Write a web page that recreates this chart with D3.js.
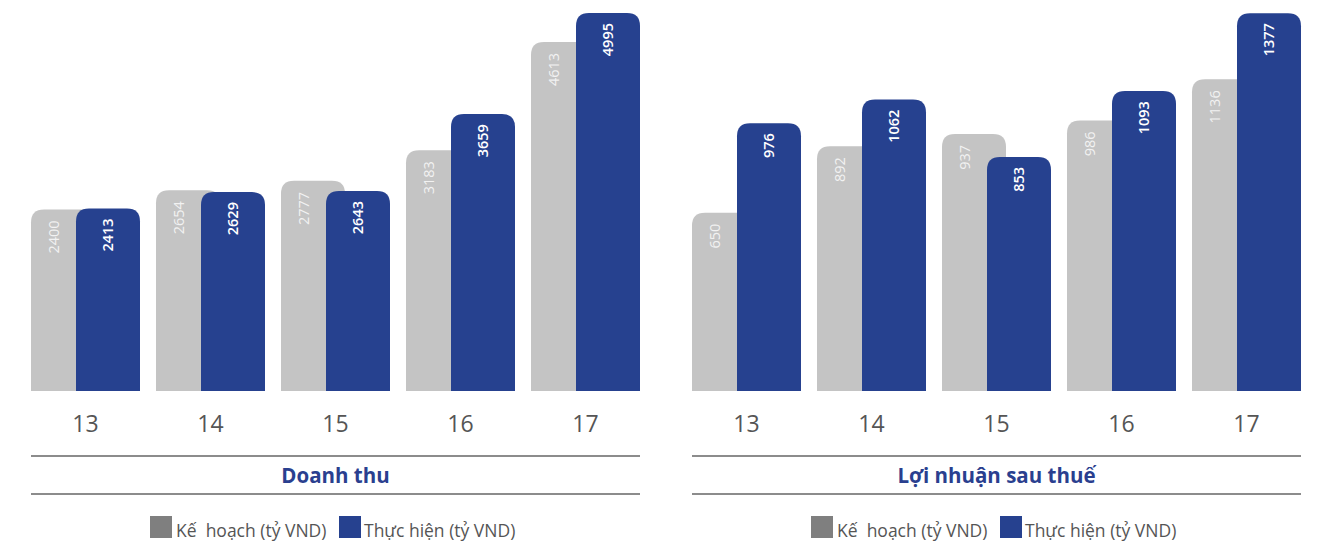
<!DOCTYPE html>
<html>
<head>
<meta charset="utf-8">
<script src="https://cdn.jsdelivr.net/npm/d3@7"></script>
<style>
  body { margin: 0; background: #fff; }
  svg { display: block; font-family: "Open Sans", "Noto Sans", sans-serif; }
</style>
</head>
<body>
<svg id="chart" width="1321" height="542"></svg>
<script>
var years = ["13", "14", "15", "16", "17"];
var revenuePlan = [2400, 2654, 2777, 3183, 4613];
var revenueActual = [2413, 2629, 2643, 3659, 4995];
var profitPlan = [650, 892, 937, 986, 1136];
var profitActual = [976, 1062, 853, 1093, 1377];
var titles = ["Doanh thu", "Lợi nhuận sau thuế"];
var legendLabels = ["Kế  hoạch (tỷ VND)", "Thực hiện (tỷ VND)"];

var grayBar = "#c4c4c4", blueBar = "#26418f", legendGray = "#7f7f7f";
var baseY = 391, topY = 0, barW = 64, radius = 13;

var svg = d3.select("#chart");

// rounded only on the top corners
function topRounded(x, y, w, h, r) {
    r = Math.min(r, h, w / 2);
    return "M" + x + "," + (y + h) +
        "V" + (y + r) +
        "Q" + x + "," + y + " " + (x + r) + "," + y +
        "H" + (x + w - r) +
        "Q" + (x + w) + "," + y + " " + (x + w) + "," + (y + r) +
        "V" + (y + h) + "Z";
}

function drawPanel(left, right, plan, actual, yMax, title, legendX) {
    var g = svg.append("g");
    var x = d3.scaleBand().domain(years).range([left, right]).paddingInner(0.128).paddingOuter(0);
    var y = d3.scaleLinear().domain([0, yMax]).range([baseY, topY]);

    var rows = years.map(function(d, i) { return { year: d, plan: plan[i], actual: actual[i] }; });

    // plan bars (behind)
    g.selectAll(".plan").data(rows).enter().append("path")
        .attr("class", "plan")
        .attr("fill", grayBar)
        .attr("d", function(d) {
            return topRounded(x(d.year), y(d.plan), barW, baseY - y(d.plan), radius);
        });

    // actual bars (front)
    g.selectAll(".actual").data(rows).enter().append("path")
        .attr("class", "actual")
        .attr("fill", blueBar)
        .attr("d", function(d) {
            var x0 = x(d.year) + x.bandwidth() - barW;
            return topRounded(x0, y(d.actual), barW, baseY - y(d.actual), radius);
        });

    var visiblePlan = x.bandwidth() - barW;

    g.selectAll(".plan-label").data(rows).enter().append("text")
        .attr("transform", function(d) {
            return "translate(" + (x(d.year) + visiblePlan / 2 + 5) + "," + (y(d.plan) + 11) + ") rotate(-90)";
        })
        .attr("text-anchor", "end")
        .attr("fill", "#f2f2f2")
        .style("font-size", "14.5px")
        .text(function(d) { return d.plan; });

    g.selectAll(".actual-label").data(rows).enter().append("text")
        .attr("transform", function(d) {
            return "translate(" + (x(d.year) + x.bandwidth() - barW / 2 + 5) + "," + (y(d.actual) + 10) + ") rotate(-90)";
        })
        .attr("text-anchor", "end")
        .attr("fill", "#ffffff")
        .style("font-size", "14.5px")
        .style("font-weight", "600")
        .text(function(d) { return d.actual; });

    // category labels
    var axis = g.append("g")
        .attr("transform", "translate(0," + baseY + ")")
        .call(d3.axisBottom(x).tickSize(0).tickPadding(25));
    axis.select(".domain").remove();
    axis.selectAll("text")
        .attr("fill", "#555")
        .style("font-size", "23px")
        .style("font-family", "\"Open Sans\", \"Noto Sans\", sans-serif");

    // rules and title
    [456, 494].forEach(function(yy) {
        g.append("line")
            .attr("x1", left).attr("x2", right)
            .attr("y1", yy).attr("y2", yy)
            .attr("stroke", "#666").attr("stroke-width", 1.3);
    });
    g.append("text")
        .attr("x", (left + right) / 2)
        .attr("y", 483)
        .attr("text-anchor", "middle")
        .attr("fill", "#2a3f8f")
        .style("font-size", "20.5px")
        .style("font-weight", "700")
        .text(title);

    // legend
    var lg = g.append("g").attr("transform", "translate(" + legendX + ",0)");
    lg.append("rect").attr("x", 0).attr("y", 516).attr("width", 22).attr("height", 22).attr("fill", legendGray);
    lg.append("text").attr("x", 26).attr("y", 537)
        .attr("fill", "#555").style("font-size", "17.5px")
        .style("white-space", "pre")
        .text(legendLabels[0]);
    lg.append("rect").attr("x", 189).attr("y", 516).attr("width", 22).attr("height", 22).attr("fill", blueBar);
    lg.append("text").attr("x", 214).attr("y", 537)
        .attr("fill", "#555").style("font-size", "17.5px")
        .text(legendLabels[1]);
}

drawPanel(31, 640, revenuePlan, revenueActual, 5167, titles[0], 150);
drawPanel(692, 1301, profitPlan, profitActual, 1425, titles[1], 811);
</script>
</body>
</html>
